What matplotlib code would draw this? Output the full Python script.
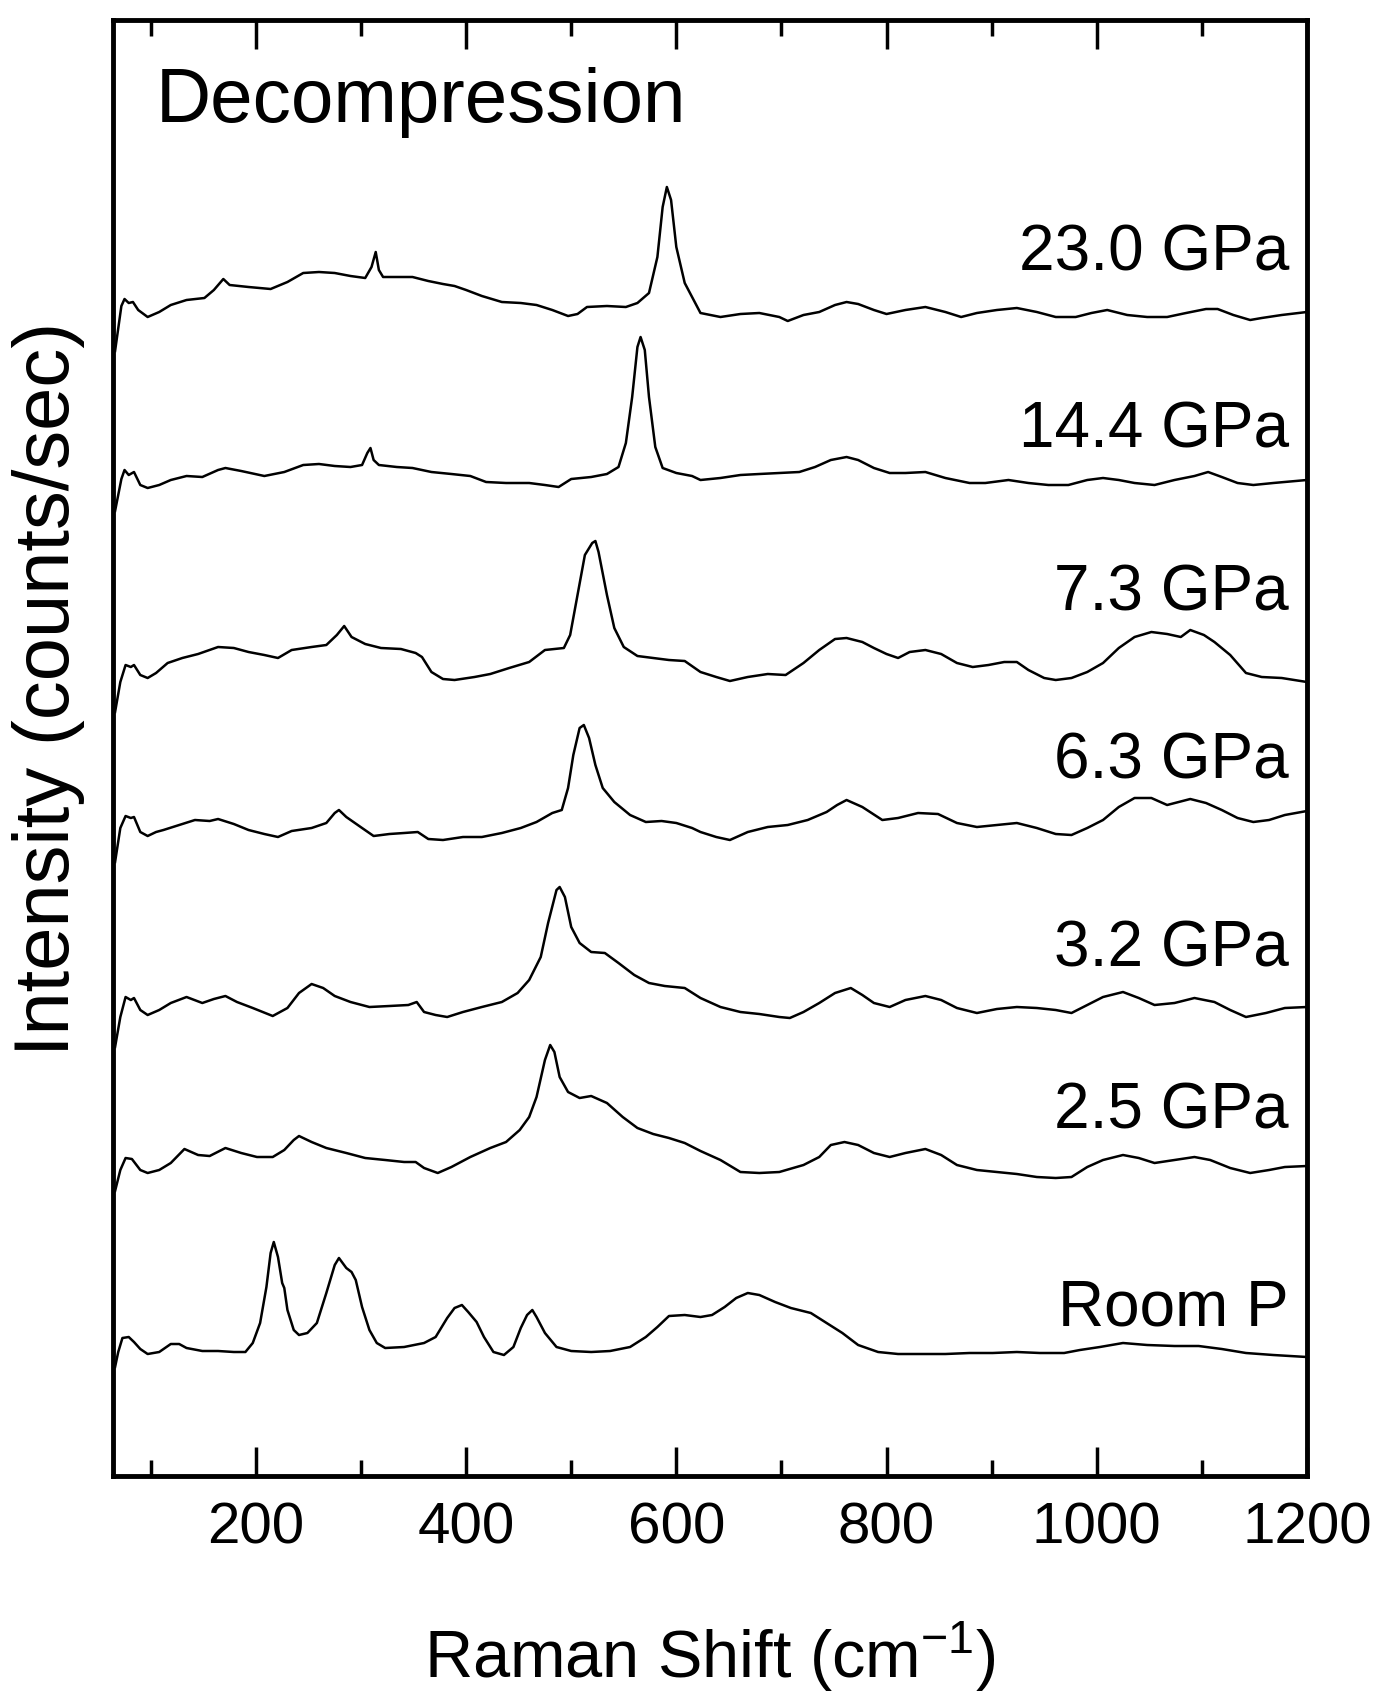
import numpy as np
import matplotlib.pyplot as plt

plt.rcParams['font.family'] = ['Liberation Sans', 'DejaVu Sans']
plt.rcParams['mathtext.fontset'] = 'custom'
plt.rcParams['mathtext.rm'] = 'Liberation Sans'
plt.rcParams['mathtext.it'] = 'Liberation Sans:italic'

# Raman spectra (x in cm^-1, intensity relative to each trace's offset)
labels = ['23.0 GPa', '14.4 GPa', '7.3 GPa', '6.3 GPa', '3.2 GPa', '2.5 GPa', 'Room P']
offsets = [1160, 995, 795, 665, 470, 310, 120]

x_230 = [66, 72, 75, 79, 83, 88, 97, 108, 119, 134, 151, 160, 169, 175, 193, 214, 230, 245, 260, 275,
         290, 304, 310, 314, 317, 321, 334, 349, 364, 378, 389, 400, 415, 434, 452, 467, 482, 497, 506, 515,
         534, 552, 563, 574, 582, 587, 591, 595, 600, 608, 617, 623, 642, 661, 679, 698, 706, 721, 736, 751,
         762, 773, 788, 800, 818, 837, 856, 871, 886, 905, 924, 943, 961, 980, 995, 1010, 1029, 1048, 1067, 1085,
         1104, 1115, 1130, 1146, 1157, 1176, 1200]
y_230 = [-35, 10, 17, 13, 14, 6, -1, 4, 11, 16, 18, 26, 37, 31, 29, 27, 34, 43, 44, 43,
         40, 38, 49, 64, 46, 39, 39, 39, 35, 32, 30, 26, 20, 14, 13, 11, 6, 0, 2, 9,
         10, 9, 13, 23, 59, 109, 129, 116, 69, 33, 15, 3, -1, 2, 3, -1, -5, 1, 4, 11,
         14, 12, 6, 2, 6, 9, 4, -1, 3, 6, 8, 4, -1, -1, 3, 6, 1, -1, -1, 3,
         7, 7, 1, -4, -2, 1, 4]

x_144 = [66, 72, 75, 79, 84, 90, 97, 108, 119, 134, 149, 164, 171, 186, 208, 227, 245, 260, 275, 290,
         301, 306, 309, 312, 317, 334, 349, 367, 386, 404, 419, 438, 460, 475, 488, 500, 519, 534, 545, 552,
         558, 563, 566, 570, 574, 580, 587, 600, 615, 623, 642, 661, 679, 698, 717, 732, 747, 762, 773, 788,
         803, 818, 837, 856, 879, 894, 916, 935, 954, 973, 991, 1006, 1021, 1036, 1055, 1074, 1093, 1106, 1119, 1134,
         1149, 1168, 1200]
y_144 = [-30, 2, 11, 6, 9, -4, -7, -4, 1, 5, 4, 11, 13, 10, 5, 9, 16, 17, 15, 14,
         16, 28, 33, 21, 16, 14, 13, 9, 7, 5, -1, -2, -2, -4, -6, 2, 4, 7, 14, 38,
         84, 134, 144, 131, 84, 34, 13, 8, 5, 1, 3, 6, 7, 8, 9, 14, 21, 24, 21, 13,
         8, 8, 9, 3, -2, -2, 1, -2, -4, -4, 1, 3, 1, -2, -4, 1, 5, 9, 4, -2,
         -4, -2, 1]

x_73 = [66, 71, 76, 81, 84, 90, 97, 105, 116, 130, 145, 164, 179, 193, 208, 221, 234, 253, 267, 277,
        284, 291, 304, 319, 338, 352, 358, 367, 378, 389, 408, 423, 441, 460, 475, 493, 499, 506, 513, 520,
        523, 526, 534, 541, 550, 563, 578, 593, 608, 623, 638, 651, 668, 687, 704, 721, 736, 751, 762, 777,
        788, 800, 811, 822, 837, 852, 867, 882, 897, 912, 924, 935, 950, 961, 976, 991, 1006, 1021, 1036, 1052,
        1067, 1080, 1089, 1102, 1112, 1127, 1142, 1157, 1176, 1200]
y_73 = [-31, -1, 16, 14, 16, 6, 3, 8, 18, 23, 27, 34, 33, 29, 26, 23, 31, 34, 36, 46,
        55, 44, 37, 33, 32, 28, 24, 9, 2, 1, 4, 7, 13, 19, 31, 33, 46, 86, 126, 138,
        140, 129, 86, 53, 34, 25, 23, 21, 20, 9, 4, 0, 4, 7, 6, 18, 31, 42, 43, 39,
        33, 27, 23, 29, 31, 27, 18, 14, 16, 19, 19, 11, 3, 1, 3, 9, 18, 33, 44, 49,
        47, 44, 51, 46, 39, 26, 8, 4, 3, -1]

x_63 = [66, 71, 76, 81, 84, 90, 97, 105, 112, 127, 142, 156, 164, 179, 193, 208, 221, 234, 253, 267,
        275, 279, 286, 301, 312, 327, 341, 354, 364, 378, 397, 415, 434, 452, 467, 482, 491, 497, 502, 508,
        512, 517, 523, 530, 541, 556, 571, 586, 600, 615, 623, 638, 651, 668, 687, 706, 725, 743, 753, 762,
        777, 796, 811, 830, 849, 867, 886, 905, 924, 943, 961, 976, 991, 1006, 1021, 1036, 1052, 1067, 1089, 1104,
        1119, 1134, 1149, 1164, 1179, 1200]
y_63 = [-51, -17, -5, -7, -6, -21, -25, -21, -19, -14, -9, -10, -8, -13, -19, -23, -26, -20, -17, -12,
        -2, 1, -6, -17, -25, -23, -22, -21, -28, -29, -26, -26, -22, -17, -11, -2, 1, 23, 56, 83,
        86, 73, 46, 23, 9, -4, -11, -10, -12, -17, -21, -26, -29, -21, -16, -14, -9, -1, 6, 11,
        4, -9, -7, -2, -3, -12, -16, -14, -12, -17, -23, -24, -17, -9, 4, 13, 13, 6, 12, 8,
        1, -7, -11, -9, -4, 0]

x_32 = [66, 71, 76, 81, 84, 90, 97, 108, 119, 134, 149, 160, 171, 182, 197, 216, 230, 241, 253, 264,
        275, 290, 308, 327, 345, 353, 360, 371, 382, 397, 415, 434, 449, 460, 471, 478, 486, 489, 494, 500,
        508, 519, 532, 545, 560, 574, 589, 608, 623, 642, 661, 679, 698, 708, 721, 736, 751, 766, 777, 788,
        803, 818, 837, 852, 867, 886, 905, 924, 943, 961, 976, 991, 1006, 1025, 1040, 1055, 1074, 1093, 1112, 1127,
        1142, 1161, 1179, 1200]
y_32 = [-41, -11, 9, 6, 8, -4, -9, -4, 3, 9, 3, 7, 10, 4, -2, -10, -2, 13, 22, 18,
        10, 4, -1, 0, 1, 4, -6, -9, -11, -6, -1, 4, 13, 26, 49, 83, 116, 119, 109, 79,
        63, 54, 53, 43, 31, 23, 20, 18, 8, -1, -6, -8, -11, -12, -6, 3, 13, 18, 11, 3,
        -1, 6, 10, 6, -2, -7, -3, -1, -2, -4, -7, 1, 9, 14, 8, 1, 3, 8, 4, -4,
        -11, -7, -2, -1]

x_25 = [66, 71, 76, 82, 90, 97, 108, 119, 132, 145, 156, 171, 186, 201, 216, 227, 236, 241, 253, 267,
        286, 304, 323, 341, 352, 360, 373, 386, 404, 423, 438, 451, 460, 467, 475, 480, 484, 489, 497, 508,
        519, 534, 549, 563, 578, 593, 608, 623, 642, 661, 679, 698, 721, 736, 747, 760, 773, 788, 803, 818,
        837, 852, 867, 886, 905, 924, 943, 961, 976, 991, 1006, 1025, 1040, 1055, 1074, 1093, 1108, 1127, 1146, 1164,
        1179, 1200]
y_25 = [-25, -4, 8, 7, -4, -7, -4, 3, 17, 11, 10, 18, 13, 9, 9, 16, 26, 30, 24, 18,
        13, 8, 6, 4, 4, -2, -7, -1, 9, 18, 24, 36, 49, 69, 106, 121, 114, 89, 74, 68,
        70, 63, 49, 38, 32, 28, 23, 15, 6, -6, -7, -6, 1, 9, 21, 24, 21, 13, 9, 13,
        17, 11, 1, -4, -6, -8, -11, -12, -11, -1, 6, 11, 8, 3, 6, 9, 6, -2, -7, -4,
        -1, 0]

x_room = [66, 69, 73, 79, 84, 90, 97, 108, 119, 127, 134, 149, 164, 179, 190, 197, 204, 210, 214, 217,
          221, 225, 227, 230, 236, 241, 249, 258, 267, 275, 279, 286, 291, 295, 301, 308, 315, 323, 341, 360,
          371, 382, 389, 396, 402, 410, 417, 426, 436, 445, 452, 458, 463, 467, 475, 486, 500, 519, 537, 556,
          571, 582, 593, 608, 623, 634, 646, 657, 668, 679, 694, 709, 728, 743, 758, 773, 792, 811, 834, 856,
          879, 901, 924, 946, 969, 984, 1003, 1025, 1048, 1074, 1097, 1119, 1142, 1168, 1200]
y_room = [-11, 4, 18, 19, 14, 7, 2, 4, 12, 12, 8, 5, 5, 4, 4, 13, 33, 69, 103, 114,
          99, 73, 68, 46, 26, 21, 23, 33, 63, 91, 98, 88, 84, 76, 49, 26, 13, 8, 9, 13,
          19, 38, 48, 51, 44, 34, 19, 4, 1, 9, 28, 41, 46, 39, 23, 9, 5, 4, 5, 9,
          19, 29, 40, 41, 39, 41, 49, 58, 63, 61, 54, 48, 43, 33, 23, 11, 4, 2, 2, 2,
          3, 3, 4, 3, 3, 6, 9, 13, 11, 10, 10, 7, 3, 1, -1]

spectra_x = [x_230, x_144, x_73, x_63, x_32, x_25, x_room]
spectra_y = [y_230, y_144, y_73, y_63, y_32, y_25, y_room]

# height of each label baseline above its trace offset
label_gap = [46, 34, 71, 33, 40, 38, 31]

fig = plt.figure(figsize=(13.76, 16.95), dpi=100)
ax = fig.add_axes([0.0821, 0.1292, 0.8677, 0.8590])

for xs, ys, off in zip(spectra_x, spectra_y, offsets):
    ax.plot(xs, np.array(ys) + off, color='black', linewidth=1.8)

for lab, off, gap in zip(labels, offsets, label_gap):
    ax.text(1183, off + gap, lab, ha='right', va='baseline', fontsize=46)

ax.text(0.036, 0.930, 'Decompression', transform=ax.transAxes,
        ha='left', va='baseline', fontsize=55)

ax.set_xlim(64, 1200)
ax.set_ylim(0, 1456)
ax.set_xticks([200, 400, 600, 800, 1000, 1200])
ax.set_xticks(np.arange(100, 1200, 200), minor=True)
ax.set_yticks([])

for s in ax.spines.values():
    s.set_linewidth(3.5)
ax.tick_params(axis='x', which='both', direction='in', top=True, bottom=True,
               width=2.5, labelsize=42, pad=18)
ax.tick_params(axis='x', which='major', length=21)
ax.tick_params(axis='x', which='minor', length=11.5)

fig.text(0.516, 0.0100, r'Raman Shift (cm$^{-1}$)', ha='center', va='baseline', fontsize=48)
fig.text(0.0356, 0.5935, 'Intensity (counts/sec)', rotation=90,
         ha='center', va='center', fontsize=56)

fig.savefig('out.png', dpi=100)
